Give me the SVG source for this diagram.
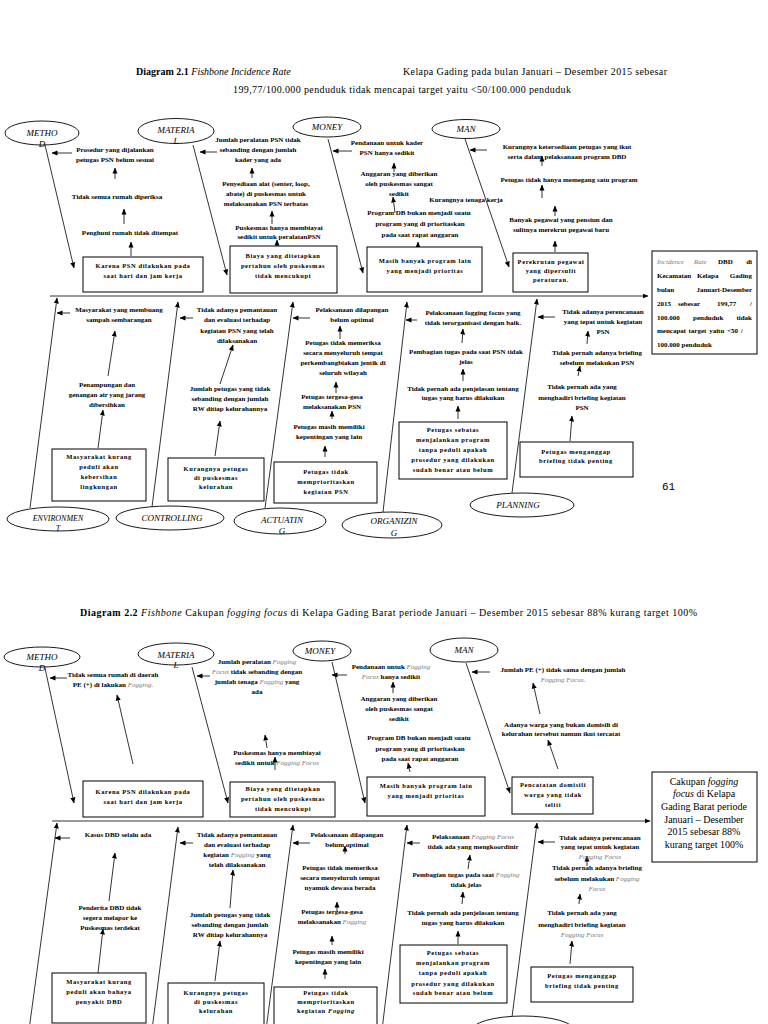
<svg xmlns="http://www.w3.org/2000/svg" width="768" height="1024" viewBox="0 0 768 1024">
<defs>
<marker id="a" markerWidth="6" markerHeight="6" refX="5.5" refY="3" orient="auto" markerUnits="userSpaceOnUse"><path d="M0,0.5 L6,3 L0,5.5z" fill="#000"/></marker>
<style>
.c{font-family:"Liberation Serif",serif;font-size:7px;font-weight:bold;text-anchor:middle}
.s{text-anchor:start}
.r{text-anchor:end}
.x{font-family:"Liberation Serif",serif;font-size:6.5px;font-weight:bold;letter-spacing:0.6px;text-anchor:middle}
.e{font-family:"Liberation Serif",serif;font-size:9px;font-style:italic;text-anchor:middle}
.t{font-family:"Liberation Serif",serif;font-size:10px}
.g{fill:#7a7a7a;font-style:italic;font-weight:normal}
.bx{fill:#fff;stroke:#000;stroke-width:1}
.el{fill:#fff;stroke:#000;stroke-width:0.9}
.ln{stroke:#000;stroke-width:0.8;fill:none;marker-end:url(#a)}
</style>
</defs>
<rect width="768" height="1024" fill="#fff"/>

<!-- Titles -->
<g id="title1">
<text class="t" x="136" y="75"><tspan font-weight="bold">Diagram 2.1</tspan> <tspan font-style="italic">Fishbone Incidence Rate</tspan></text>
<text class="t" x="403" y="75" textLength="264">Kelapa Gading pada bulan Januari – Desember 2015 sebesar</text>
<text class="t" x="233" y="93" textLength="338">199,77/100.000 penduduk tidak mencapai target yaitu &lt;50/100.000 penduduk</text>
</g>
<g id="title2">
<text class="t" x="80" y="616" textLength="617"><tspan font-weight="bold">Diagram 2.2</tspan> <tspan font-style="italic">Fishbone</tspan> Cakupan <tspan font-style="italic">fogging focus</tspan>  di Kelapa Gading  Barat periode Januari – Desember 2015 sebesar 88% kurang target 100%</text>
</g>

<!-- Connectors -->
<g id="connectors">
<!-- diagram 1 -->
<path class="ln" d="M50,296 H648"/>
<path class="ln" d="M45,145 L74,268"/>
<path class="ln" d="M193,145 L227,275"/>
<path class="ln" d="M328,139 L363,273"/>
<path class="ln" d="M465,139 L509,267"/>
<path class="ln" d="M30,508 L57,298"/>
<path class="ln" d="M152,507 L178,302"/>
<path class="ln" d="M265,508 L293,302"/>
<path class="ln" d="M383,512 L407,302"/>
<path class="ln" d="M512,493 L537,299"/>
<path class="ln" d="M72,153 H52"/>
<path class="ln" d="M217,152 H200"/>
<path class="ln" d="M352,151 H333"/>
<path class="ln" d="M487,150 H470"/>
<path class="ln" d="M70,313 H57"/>
<path class="ln" d="M193,318 H180"/>
<path class="ln" d="M310,318 H293"/>
<path class="ln" d="M417,320 H406"/>
<path class="ln" d="M555,317 H538"/>
<path class="ln" d="M115,179 V168"/>
<path class="ln" d="M124,224 V209"/>
<path class="ln" d="M131,256 V242"/>
<path class="ln" d="M252,178 V168"/>
<path class="ln" d="M272,224 V211"/>
<path class="ln" d="M277,246 V240"/>
<path class="ln" d="M394,172 V163"/>
<path class="ln" d="M395,213 L393,197"/>
<path class="ln" d="M418,251 V242"/>
<path class="ln" d="M542,166 V156"/>
<path class="ln" d="M542,198 V185"/>
<path class="ln" d="M555,216 V206"/>
<path class="ln" d="M555,252 V241"/>
<path class="ln" d="M108,376 L115,331"/>
<path class="ln" d="M98,448 L103,410"/>
<path class="ln" d="M220,384 L233,345"/>
<path class="ln" d="M215,456 L220,421"/>
<path class="ln" d="M340,339 V326"/>
<path class="ln" d="M336,393 V382"/>
<path class="ln" d="M332,419 V411"/>
<path class="ln" d="M325,457 V446"/>
<path class="ln" d="M462,343 L463,329"/>
<path class="ln" d="M463,381 V369"/>
<path class="ln" d="M458,419 V406"/>
<path class="ln" d="M587,344 L588,331"/>
<path class="ln" d="M578,376 L580,366"/>
<path class="ln" d="M570,441 L572,416"/>
<!-- diagram 2 -->
<path class="ln" d="M52,821 H650"/>
<path class="ln" d="M45,668 L74,803"/>
<path class="ln" d="M192,667 L228,803"/>
<path class="ln" d="M332,662 L365,803"/>
<path class="ln" d="M466,663 L510,793"/>
<path class="ln" d="M29,1030 L57,823"/>
<path class="ln" d="M152,1030 L178,827"/>
<path class="ln" d="M266,1030 L293,825"/>
<path class="ln" d="M382,1030 L407,825"/>
<path class="ln" d="M512,1017 L537,823"/>
<path class="ln" d="M67,678 H50"/>
<path class="ln" d="M210,676 H197"/>
<path class="ln" d="M347,675 H332"/>
<path class="ln" d="M490,672 H472"/>
<path class="ln" d="M70,838 H55"/>
<path class="ln" d="M193,843 H180"/>
<path class="ln" d="M310,843 H293"/>
<path class="ln" d="M420,843 H407"/>
<path class="ln" d="M555,842 H538"/>
<path class="ln" d="M133,764 L117,695"/>
<path class="ln" d="M267,748 L265,735"/>
<path class="ln" d="M275,770 V757"/>
<path class="ln" d="M393,693 V682"/>
<path class="ln" d="M410,772 L408,763"/>
<path class="ln" d="M540,714 L533,683"/>
<path class="ln" d="M558,769 L548,740"/>
<path class="ln" d="M109,901 L115,853"/>
<path class="ln" d="M98,973 L103,929"/>
<path class="ln" d="M230,908 L233,870"/>
<path class="ln" d="M215,981 L220,941"/>
<path class="ln" d="M345,854 V846"/>
<path class="ln" d="M337,911 V902"/>
<path class="ln" d="M332,945 V936"/>
<path class="ln" d="M325,979 V969"/>
<path class="ln" d="M468,869 L470,855"/>
<path class="ln" d="M462,904 L463,892"/>
<path class="ln" d="M458,944 V931"/>
<path class="ln" d="M587,866 V856"/>
<path class="ln" d="M579,904 L580,894"/>
<path class="ln" d="M570,964 L572,941"/>
</g>

<!-- ===== Diagram 2.1 nodes ===== -->
<g id="d1-method">
<ellipse class="el" cx="42" cy="133" rx="37" ry="12"/>
<text class="e" x="42" y="136">METHO</text><text class="e" x="42" y="147">D</text>
<text class="c" x="115" y="152">Prosedur yang dijalankan</text>
<text class="c" x="115" y="162">petugas PSN belum sesuai</text>
<text class="c" x="117" y="199">Tidak semua rumah diperiksa</text>
<text class="c" x="130" y="235">Penghuni rumah tidak ditempat</text>
<rect class="bx" x="83" y="257" width="120" height="35"/>
<text class="x" x="143" y="268">Karena PSN dilakukan pada</text>
<text class="x" x="143" y="278">saat hari dan jam kerja</text>
</g>
<g id="d1-material">
<ellipse class="el" cx="176" cy="131" rx="38" ry="12.5"/>
<text class="e" x="176" y="133">MATERIA</text><text class="e" x="176" y="144">L</text>
<text class="c" x="258" y="142">Jumlah peralatan PSN tidak</text>
<text class="c" x="258" y="152">sebanding dengan jumlah</text>
<text class="c" x="258" y="162">kader yang ada</text>
<text class="c" x="266" y="186">Penyediaan alat (senter, loop,</text>
<text class="c" x="266" y="196">abate) di puskesmas untuk</text>
<text class="c" x="266" y="206">melaksanakan PSN terbatas</text>
<text class="c" x="279" y="230">Puskesmas hanya membiayai</text>
<text class="c" x="279" y="239">sedikit untuk peralatanPSN</text>
<rect class="bx" x="230" y="246" width="107" height="47"/>
<text class="x" x="283" y="258">Biaya yang ditetapkan</text>
<text class="x" x="283" y="268">pertahun oleh puskesmas</text>
<text class="x" x="283" y="278">tidak mencukupi</text>
</g>
<g id="d1-money">
<ellipse class="el" cx="327" cy="127" rx="34" ry="10"/>
<text class="e" x="327" y="130">MONEY</text>
<text class="c" x="387" y="145">Pendanaan untuk kader</text>
<text class="c" x="387" y="155">PSN hanya sedikit</text>
<text class="c" x="399" y="176">Anggaran yang diberikan</text>
<text class="c" x="399" y="186">oleh puskesmas sangat</text>
<text class="c" x="399" y="196">sedikit</text>
<text class="c" x="419" y="215">Program DB bukan menjadi suatu</text>
<text class="c" x="420" y="226">program yang di prioritaskan</text>
<text class="c" x="420" y="237">pada saat rapat anggaran</text>
<rect class="bx" x="367" y="247" width="115" height="45"/>
<text class="x" x="425" y="263">Masih banyak program lain</text>
<text class="x" x="425" y="273">yang menjadi prioritas</text>
</g>
<g id="d1-man">
<ellipse class="el" cx="466" cy="129" rx="34" ry="9.5"/>
<text class="e" x="466" y="132">MAN</text>
<text class="c" x="466" y="202">Kurangnya tenaga kerja</text>
<text class="c" x="567" y="149">Kurangnya ketersediaan petugas yang ikut</text>
<text class="c" x="567" y="159">serta dalam pelaksanaan program DBD</text>
<text class="c" x="569" y="182">Petugas tidak hanya memegang satu program</text>
<text class="c" x="561" y="222">Banyak pegawai yang pensiun dan</text>
<text class="c" x="561" y="232">sulitnya merekrut pegawai baru</text>
<rect class="bx" x="513" y="253" width="75" height="39"/>
<text class="x" x="551" y="264">Perekrutan pegawai</text>
<text class="x" x="551" y="273">yang dipersulit</text>
<text class="x" x="551" y="282">peraturan.</text>
</g>
<g id="d1-result">
<rect class="bx" x="652" y="251" width="105" height="103"/>
<text class="c s" x="657" y="264"><tspan class="g">Incidence</tspan></text>
<text class="c s" x="694" y="264"><tspan class="g">Rate</tspan></text>
<text class="c s" x="718" y="264">DBD</text>
<text class="c r" x="752" y="264">di</text>
<text class="c s" x="657" y="278">Kecamatan</text>
<text class="c s" x="697" y="278">Kelapa</text>
<text class="c r" x="752" y="278">Gading</text>
<text class="c s" x="657" y="292">bulan</text>
<text class="c r" x="752" y="292">Januari-Desember</text>
<text class="c s" x="657" y="306">2015</text>
<text class="c s" x="678" y="306">sebesar</text>
<text class="c s" x="717" y="306">199,77</text>
<text class="c r" x="752" y="306">/</text>
<text class="c s" x="657" y="320">100.000</text>
<text class="c s" x="693" y="320">penduduk</text>
<text class="c r" x="752" y="320">tidak</text>
<text class="c s" x="657" y="333" word-spacing="1">mencapai target yaitu &lt;50 /</text>
<text class="c s" x="657" y="347">100.000 penduduk</text>
</g>
<g id="d1-environment">
<ellipse class="el" cx="58" cy="519" rx="51" ry="12"/>
<text class="e" x="58" y="521" style="font-size:8px">ENVIRONMEN</text><text class="e" x="58" y="531" style="font-size:8px">T</text>
<text class="c" x="119" y="312">Masyarakat yang membuang</text>
<text class="c" x="119" y="322">sampah sembarangan</text>
<text class="c" x="107" y="387">Penampungan dan</text>
<text class="c" x="107" y="397">genangan air yang jarang</text>
<text class="c" x="107" y="407">dibersihkan</text>
<rect class="bx" x="52" y="449" width="94" height="52"/>
<text class="x" x="99" y="459">Masyarakat kurang</text>
<text class="x" x="99" y="469">peduli akan</text>
<text class="x" x="99" y="479">kebersihan</text>
<text class="x" x="99" y="489">lingkungan</text>
</g>
<g id="d1-controlling">
<ellipse class="el" cx="170" cy="518" rx="54" ry="12"/>
<text class="e" x="172" y="521">CONTROLLING</text>
<text class="c" x="237" y="312">Tidak adanya pemantauan</text>
<text class="c" x="237" y="322">dan evaluasi terhadap</text>
<text class="c" x="237" y="333">kegiatan PSN yang telah</text>
<text class="c" x="237" y="343">dilaksanakan</text>
<text class="c" x="230" y="391">Jumlah petugas yang tidak</text>
<text class="c" x="230" y="401">sebanding dengan jumlah</text>
<text class="c" x="230" y="411">RW ditiap kelurahannya</text>
<rect class="bx" x="168" y="458" width="96" height="43"/>
<text class="x" x="216" y="471">Kurangnya petugas</text>
<text class="x" x="216" y="480">di puskesmas</text>
<text class="x" x="216" y="489">kelurahan</text>
</g>
<g id="d1-actuating">
<ellipse class="el" cx="280" cy="521" rx="46" ry="13"/>
<text class="e" x="282" y="523">ACTUATIN</text><text class="e" x="282" y="534">G</text>
<text class="c" x="352" y="312">Pelaksanaan dilapangan</text>
<text class="c" x="352" y="322">belum optimal</text>
<text class="c" x="343" y="345">Petugas tidak memeriksa</text>
<text class="c" x="343" y="355">secara menyeluruh tempat</text>
<text class="c" x="343" y="365">perkembangbiakan jentik di</text>
<text class="c" x="343" y="375">seluruh wilayah</text>
<text class="c" x="332" y="399">Petugas tergesa-gesa</text>
<text class="c" x="332" y="409">melaksanakan PSN</text>
<text class="c" x="329" y="429">Petugas masih memiliki</text>
<text class="c" x="329" y="439">kepentingan yang lain</text>
<rect class="bx" x="274" y="462" width="103" height="41"/>
<text class="x" x="326" y="474">Petugas tidak</text>
<text class="x" x="326" y="484">memprioritaskan</text>
<text class="x" x="326" y="494">kegiatan PSN</text>
</g>
<g id="d1-organizing">
<ellipse class="el" cx="392" cy="525" rx="50" ry="13"/>
<text class="e" x="394" y="524">ORGANIZIN</text><text class="e" x="394" y="536">G</text>
<text class="c" x="473" y="315">Pelaksanaan fogging focus yang</text>
<text class="c" x="473" y="325">tidak terorganisasi dengan baik.</text>
<text class="c" x="466" y="354">Pembagian tugas pada saat PSN tidak</text>
<text class="c" x="466" y="364">jelas</text>
<text class="c" x="463" y="391">Tidak pernah ada penjelasan tentang</text>
<text class="c" x="463" y="400">tugas yang harus dilakukan</text>
<rect class="bx" x="399" y="422" width="108" height="57"/>
<text class="x" x="453" y="432">Petugas sebatas</text>
<text class="x" x="453" y="442">menjalankan program</text>
<text class="x" x="453" y="452">tanpa peduli apakah</text>
<text class="x" x="453" y="462">prosedur yang dilakukan</text>
<text class="x" x="453" y="472">sudah benar atau belum</text>
</g>
<g id="d1-planning">
<ellipse class="el" cx="522" cy="505" rx="52" ry="12"/>
<text class="e" x="518" y="508">PLANNING</text>
<text class="c" x="603" y="314">Tidak adanya perencanaan</text>
<text class="c" x="603" y="324">yang tepat untuk kegiatan</text>
<text class="c" x="603" y="334">PSN</text>
<text class="c" x="597" y="355">Tidak pernah adanya briefing</text>
<text class="c" x="597" y="365">sebelum melakukan PSN</text>
<text class="c" x="582" y="389">Tidak pernah ada yang</text>
<text class="c" x="582" y="400">menghadiri briefing kegiatan</text>
<text class="c" x="582" y="410">PSN</text>
<rect class="bx" x="520" y="442" width="113" height="35"/>
<text class="x" x="576" y="454">Petugas menganggap</text>
<text class="x" x="576" y="463">briefing tidak penting</text>
</g>
<text x="662" y="490" style="font-family:'Liberation Mono',monospace;font-size:11px">61</text>

<!-- ===== Diagram 2.2 nodes ===== -->
<g id="d2-method">
<ellipse class="el" cx="42" cy="657" rx="38" ry="10"/>
<text class="e" x="42" y="660">METHO</text><text class="e" x="42" y="671">D</text>
<text class="c" x="113" y="677">Tidak semua rumah di daerah</text>
<text class="c" x="113" y="687">PE (+) di lakukan <tspan class="g">Fogging.</tspan></text>
<rect class="bx" x="83" y="781" width="120" height="36"/>
<text class="x" x="143" y="794">Karena PSN dilakukan pada</text>
<text class="x" x="143" y="804">saat hari dan jam kerja</text>
</g>
<g id="d2-material">
<ellipse class="el" cx="176" cy="654" rx="38" ry="11"/>
<text class="e" x="176" y="658">MATERIA</text><text class="e" x="176" y="668">L</text>
<text class="c" x="257" y="664">Jumlah peralatan <tspan class="g">Fogging</tspan></text>
<text class="c" x="257" y="674"><tspan class="g">Focus</tspan> tidak sebanding dengan</text>
<text class="c" x="257" y="684">jumlah tenaga <tspan class="g">Fogging</tspan> yang</text>
<text class="c" x="257" y="694">ada</text>
<text class="c" x="277" y="755">Puskesmas hanya membiayai</text>
<text class="c" x="277" y="765">sedikit untuk <tspan class="g">Fogging Focus</tspan></text>
<rect class="bx" x="230" y="782" width="105" height="35"/>
<text class="x" x="283" y="791">Biaya yang ditetapkan</text>
<text class="x" x="283" y="801">pertahun oleh puskesmas</text>
<text class="x" x="283" y="811">tidak mencukupi</text>
</g>
<g id="d2-money">
<ellipse class="el" cx="322" cy="651" rx="29" ry="10"/>
<text class="e" x="320" y="654">MONEY</text>
<text class="c" x="391" y="669">Pendanaan untuk <tspan class="g">Fogging</tspan></text>
<text class="c" x="391" y="679"><tspan class="g">Focus</tspan> hanya sedikit</text>
<text class="c" x="399" y="701">Anggaran yang diberikan</text>
<text class="c" x="399" y="711">oleh puskesmas sangat</text>
<text class="c" x="399" y="721">sedikit</text>
<text class="c" x="419" y="740">Program DB bukan menjadi suatu</text>
<text class="c" x="420" y="751">program yang di prioritaskan</text>
<text class="c" x="420" y="761">pada saat rapat anggaran</text>
<rect class="bx" x="367" y="777" width="118" height="39"/>
<text class="x" x="426" y="788">Masih banyak program lain</text>
<text class="x" x="426" y="798">yang menjadi prioritas</text>
</g>
<g id="d2-man">
<ellipse class="el" cx="464" cy="650" rx="34" ry="12"/>
<text class="e" x="464" y="653">MAN</text>
<text class="c" x="563" y="672">Jumlah PE (+) tidak sama dengan jumlah</text>
<text class="c" x="563" y="682"><tspan class="g">Fogging Focus.</tspan></text>
<text class="c" x="561" y="727">Adanya warga yang bukan domisili di</text>
<text class="c" x="561" y="736">kelurahan tersebut namun ikut tercatat</text>
<rect class="bx" x="512" y="777" width="81" height="37"/>
<text class="x" x="553" y="787">Pencatatan domisili</text>
<text class="x" x="553" y="797">warga yang tidak</text>
<text class="x" x="553" y="807">teliti</text>
</g>
<g id="d2-result">
<rect class="bx" x="652" y="772" width="105" height="90"/>
<g style="font-family:'Liberation Serif',serif;font-size:10px;text-anchor:middle">
<text x="704" y="785">Cakupan <tspan font-style="italic">fogging</tspan></text>
<text x="704" y="797"><tspan font-style="italic">focus</tspan>  di Kelapa</text>
<text x="704" y="810">Gading Barat periode</text>
<text x="704" y="823">Januari – Desember</text>
<text x="704" y="835">2015 sebesar 88%</text>
<text x="704" y="848">kurang target 100%</text>
</g>
</g>
<g id="d2-environment">
<text class="c" x="118" y="837">Kasus DBD selalu ada</text>
<text class="c" x="110" y="910">Penderita DBD tidak</text>
<text class="c" x="110" y="920">segera melapor ke</text>
<text class="c" x="110" y="930">Puskesmas terdekat</text>
<rect class="bx" x="52" y="973" width="94" height="50"/>
<text class="x" x="99" y="984">Masyarakat kurang</text>
<text class="x" x="99" y="994">peduli akan bahaya</text>
<text class="x" x="99" y="1004">penyakit DBD</text>
</g>
<g id="d2-controlling">
<text class="c" x="237" y="837">Tidak adanya pemantauan</text>
<text class="c" x="237" y="847">dan evaluasi terhadap</text>
<text class="c" x="237" y="857">kegiatan <tspan class="g">Fogging</tspan> yang</text>
<text class="c" x="237" y="867">telah dilaksanakan</text>
<text class="c" x="230" y="917">Jumlah petugas yang tidak</text>
<text class="c" x="230" y="927">sebanding dengan jumlah</text>
<text class="c" x="230" y="937">RW ditiap kelurahannya</text>
<rect class="bx" x="168" y="983" width="96" height="48"/>
<text class="x" x="216" y="995">Kurangnya petugas</text>
<text class="x" x="216" y="1004">di puskesmas</text>
<text class="x" x="216" y="1013">kelurahan</text>
</g>
<g id="d2-actuating">
<text class="c" x="347" y="837">Pelaksanaan dilapangan</text>
<text class="c" x="347" y="847">belum optimal</text>
<text class="c" x="340" y="870">Petugas tidak memeriksa</text>
<text class="c" x="340" y="880">secara menyeluruh tempat</text>
<text class="c" x="340" y="890">nyamuk dewasa berada</text>
<text class="c" x="332" y="914">Petugas tergesa-gesa</text>
<text class="c" x="332" y="924">melaksanakan <tspan class="g">Fogging</tspan></text>
<text class="c" x="328" y="954">Petugas masih memiliki</text>
<text class="c" x="328" y="964">kepentingan yang lain</text>
<rect class="bx" x="274" y="987" width="103" height="44"/>
<text class="x" x="326" y="995">Petugas tidak</text>
<text class="x" x="326" y="1004">memprioritaskan</text>
<text class="x" x="326" y="1013">kegiatan <tspan font-style="italic">Fogging</tspan></text>
</g>
<g id="d2-organizing">
<text class="c" x="473" y="839">Pelaksanaan <tspan class="g">Fogging Focus</tspan></text>
<text class="c" x="473" y="849">tidak ada yang mengkoordinir</text>
<text class="c" x="466" y="877">Pembagian tugas pada saat <tspan class="g">Fogging</tspan></text>
<text class="c" x="466" y="887">tidak jelas</text>
<text class="c" x="463" y="915">Tidak pernah ada penjelasan tentang</text>
<text class="c" x="463" y="925">tugas yang harus dilakukan</text>
<rect class="bx" x="400" y="945" width="107" height="58"/>
<text class="x" x="453" y="955">Petugas sebatas</text>
<text class="x" x="453" y="965">menjalankan program</text>
<text class="x" x="453" y="975">tanpa peduli apakah</text>
<text class="x" x="453" y="986">prosedur yang dilakukan</text>
<text class="x" x="453" y="995">sudah benar atau belum</text>
</g>
<g id="d2-planning">
<ellipse class="el" cx="523" cy="1031" rx="52" ry="15"/>
<text class="c" x="600" y="840">Tidak adanya perencanaan</text>
<text class="c" x="600" y="849">yang tepat untuk kegiatan</text>
<text class="c" x="600" y="859"><tspan class="g">Fogging Focus</tspan></text>
<text class="c" x="597" y="870">Tidak pernah adanya briefing</text>
<text class="c" x="597" y="881">sebelum melakukan <tspan class="g">Fogging</tspan></text>
<text class="c" x="597" y="891"><tspan class="g">Focus</tspan></text>
<text class="c" x="582" y="915">Tidak pernah ada yang</text>
<text class="c" x="582" y="927">menghadiri briefing kegiatan</text>
<text class="c" x="582" y="937"><tspan class="g">Fogging Focus</tspan></text>
<rect class="bx" x="531" y="967" width="102" height="35"/>
<text class="x" x="582" y="978">Petugas menganggap</text>
<text class="x" x="582" y="988">briefing tidak penting</text>
</g>
</svg>
